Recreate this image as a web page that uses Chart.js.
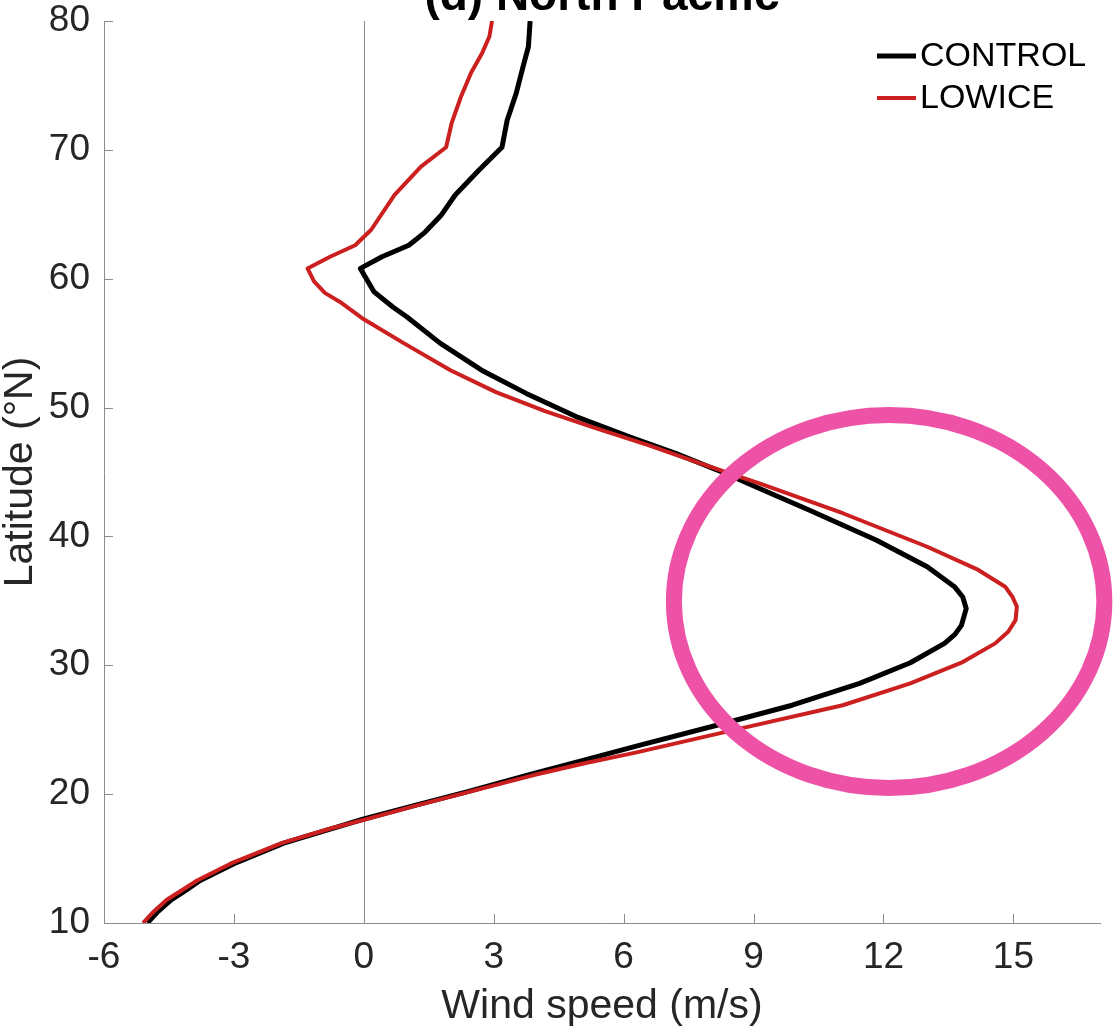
<!DOCTYPE html>
<html><head><meta charset="utf-8">
<script src="https://cdn.jsdelivr.net/npm/chart.js@4.4.1/dist/chart.umd.min.js"></script>
<style>html,body{margin:0;padding:0;background:#fff;overflow:hidden}</style>
</head><body>
<canvas id="c" width="1114" height="1034" style="display:block;width:1114px;height:1034px"></canvas>
<script>
// ---- data ----
const seriesNames = ['CONTROL', 'LOWICE'];
const controlLat  = [10.0, 10.9, 11.8, 12.5, 13.3, 14.6, 16.2, 17.35, 18.05, 19.15, 20.2, 21.5, 22.7, 23.8, 25.5, 26.9, 28.6, 30.2, 31.7, 32.4, 33.1, 34.4, 35.3, 36.1, 37.65, 39.7, 42.05, 43.7, 45.0, 46.45, 47.7, 49.3, 51.1, 52.9, 55.0, 57.05, 57.8, 59.0, 60.8, 61.7, 62.6, 63.6, 64.9, 66.5, 68.4, 70.2, 72.3, 74.4, 76.5, 78.0, 80.0];
const controlWind = [-5.0, -4.75, -4.45, -4.13, -3.78, -3.0, -1.85, -0.72, -0.02, 1.2, 2.4, 3.8, 5.15, 6.38, 8.33, 9.89, 11.45, 12.62, 13.41, 13.65, 13.8, 13.91, 13.83, 13.64, 13.01, 11.84, 10.28, 9.15, 8.27, 7.2, 6.15, 4.9, 3.75, 2.72, 1.76, 0.99, 0.67, 0.23, -0.08, 0.42, 1.04, 1.41, 1.78, 2.11, 2.65, 3.19, 3.31, 3.52, 3.68, 3.8, 3.84];
const lowiceLat   = [10.0, 10.9, 11.8, 12.5, 13.3, 14.6, 16.2, 17.35, 18.0, 19.15, 20.2, 21.5, 22.4, 23.2, 25.1, 26.9, 28.6, 30.2, 31.7, 32.6, 33.5, 34.55, 35.3, 36.1, 37.4, 39.2, 41.8, 44.1, 45.5, 47.1, 48.4, 49.7, 51.2, 52.9, 55.0, 56.85, 58.2, 58.9, 59.8, 60.8, 61.7, 62.6, 63.8, 66.5, 68.7, 70.2, 72.1, 74.1, 76.0, 77.5, 78.8, 80.0];
const lowiceWind  = [-5.1, -4.85, -4.55, -4.22, -3.85, -3.08, -1.9, -0.75, 0.0, 1.25, 2.45, 3.95, 5.1, 6.25, 8.71, 11.06, 12.62, 13.8, 14.58, 14.88, 15.05, 15.08, 14.98, 14.81, 14.19, 13.01, 11.06, 9.15, 7.92, 6.55, 5.35, 4.2, 3.05, 2.0, 0.92, 0.0, -0.55, -0.9, -1.15, -1.3, -0.78, -0.2, 0.17, 0.71, 1.32, 1.9, 2.03, 2.24, 2.48, 2.73, 2.9, 2.96];
const xTickValues = [-6, -3, 0, 3, 6, 9, 12, 15];
const yTickValues = [10, 20, 30, 40, 50, 60, 70, 80];
const titleText = '(d) North Pacific';
const xTitleText = 'Wind speed (m/s)';
const yTitleText = 'Latitude (°N)';
const highlightCenter = [12.13, 34.95];   // [wind, latitude]
const highlightRadius = [4.97, 14.47];    // [wind, latitude]

// ---- rendering ----
const FONT = "'Liberation Sans', Arial, Helvetica, sans-serif";
const AXIS_GRAY = '#8c8c8c';
const TEXT_GRAY = '#262626';
const COLORS = ['#000000', '#cc1f1f'];

function toPoints(lat, wind) { return lat.map((v, i) => ({ x: wind[i], y: v })); }

const decor = {
  id: 'decor',
  beforeDatasetsDraw(chart) {
    const { ctx, chartArea: a, scales: { x, y } } = chart;
    ctx.save();
    ctx.strokeStyle = AXIS_GRAY;
    ctx.lineWidth = 1;
    const zx = Math.round(x.getPixelForValue(0)) + 0.5;
    ctx.beginPath(); ctx.moveTo(zx, a.top); ctx.lineTo(zx, a.bottom); ctx.stroke();
    ctx.beginPath();
    xTickValues.forEach(v => {
      const px = Math.round(x.getPixelForValue(v)) + 0.5;
      ctx.moveTo(px, a.bottom); ctx.lineTo(px, a.bottom - 9);
    });
    yTickValues.forEach(v => {
      const py = Math.round(y.getPixelForValue(v)) + 0.5;
      ctx.moveTo(a.left, py); ctx.lineTo(a.left + 9, py);
    });
    ctx.stroke();
    ctx.restore();
  },
  afterDatasetsDraw(chart) {
    const { ctx, scales: { x, y } } = chart;
    const cx = x.getPixelForValue(highlightCenter[0]);
    const cy = y.getPixelForValue(highlightCenter[1]);
    const rx = Math.abs(x.getPixelForValue(highlightCenter[0] + highlightRadius[0]) - cx);
    const ry = Math.abs(y.getPixelForValue(highlightCenter[1] + highlightRadius[1]) - cy);
    ctx.save();
    ctx.strokeStyle = '#ee52a6';
    ctx.lineWidth = 16;
    ctx.beginPath(); ctx.ellipse(cx, cy, rx, ry, 0, 0, Math.PI * 2); ctx.stroke();
    ctx.restore();
  },
  afterDraw(chart) {
    const { ctx, chartArea: a } = chart;
    ctx.save();
    ctx.fillStyle = '#000';
    ctx.font = 'bold 46px ' + FONT;
    ctx.textAlign = 'center';
    ctx.textBaseline = 'alphabetic';
    ctx.fillText(titleText, (a.left + a.right) / 2, 10);
    // legend
    const rows = [56, 98];
    ctx.font = '34px ' + FONT;
    ctx.textAlign = 'left';
    ctx.textBaseline = 'middle';
    seriesNames.forEach((name, i) => {
      ctx.strokeStyle = COLORS[i];
      ctx.lineWidth = i === 0 ? 5 : 4;
      ctx.beginPath(); ctx.moveTo(877, rows[i]); ctx.lineTo(916, rows[i]); ctx.stroke();
      ctx.fillStyle = '#000';
      ctx.fillText(name, 920, rows[i] + 1);
    });
    ctx.restore();
  }
};

new Chart(document.getElementById('c'), {
  type: 'scatter',
  data: {
    datasets: [
      { label: seriesNames[0], data: toPoints(controlLat, controlWind), showLine: true, borderColor: COLORS[0], borderWidth: 5, pointRadius: 0, tension: 0, order: 1, borderJoinStyle: 'round' },
      { label: seriesNames[1], data: toPoints(lowiceLat, lowiceWind), showLine: true, borderColor: COLORS[1], borderWidth: 4, pointRadius: 0, tension: 0, order: 0, borderJoinStyle: 'round' }
    ]
  },
  options: {
    responsive: false,
    animation: false,
    devicePixelRatio: 1,
    layout: { padding: { top: 21, right: 14, left: 0, bottom: 0 } },
    plugins: { legend: { display: false }, tooltip: { enabled: false }, title: { display: false } },
    scales: {
      x: {
        type: 'linear', min: -6, max: 17,
        afterBuildTicks: s => { s.ticks = xTickValues.map(v => ({ value: v })); },
        afterFit: s => { s.height = 111; s.paddingLeft = 0; s.paddingRight = 0; },
        grid: { display: false, drawTicks: false },
        border: { display: true, color: AXIS_GRAY, width: 1 },
        ticks: { font: { family: FONT, size: 37 }, color: TEXT_GRAY, padding: 13, maxRotation: 0, autoSkip: false },
        title: { display: true, text: xTitleText, color: TEXT_GRAY, font: { family: FONT, size: 41, lineHeight: 1 }, padding: { top: 0, bottom: 7 } }
      },
      y: {
        type: 'linear', min: 10, max: 80,
        afterBuildTicks: s => { s.ticks = yTickValues.map(v => ({ value: v })); },
        afterFit: s => { s.width = 104; s.paddingTop = 0; s.paddingBottom = 0; },
        grid: { display: false, drawTicks: false },
        border: { display: true, color: AXIS_GRAY, width: 1 },
        ticks: { font: { family: FONT, size: 37 }, color: TEXT_GRAY, padding: 14, autoSkip: false },
        title: { display: true, text: yTitleText, color: TEXT_GRAY, font: { family: FONT, size: 41, lineHeight: 1 }, padding: { top: 0, bottom: 0 } }
      }
    }
  },
  plugins: [decor]
});
</script>
</body></html>
